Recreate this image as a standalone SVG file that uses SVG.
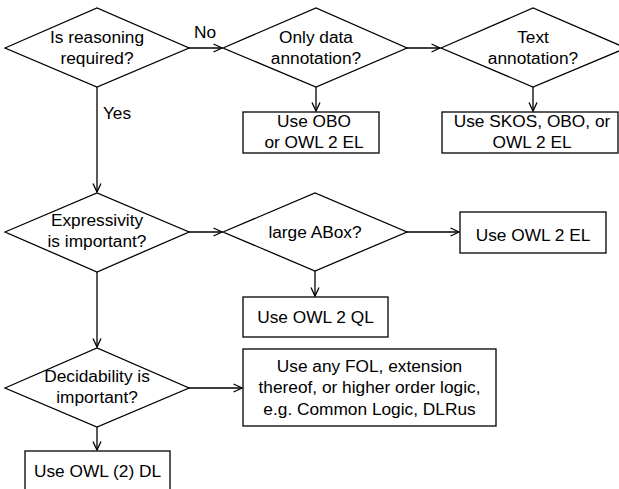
<svg xmlns="http://www.w3.org/2000/svg" width="619" height="489" viewBox="0 0 619 489">
<style>
.s{fill:#fff;stroke:#000;stroke-width:1.3}
.t{font-family:"Liberation Sans",Arial,sans-serif;font-size:17.3px;fill:#000;text-anchor:middle}
.c{fill:none;stroke:#000;stroke-width:1.3}
</style>
<defs>
<marker id="a" viewBox="0 0 10 10" refX="9.5" refY="5" markerWidth="10" markerHeight="10" markerUnits="userSpaceOnUse" orient="auto">
<polyline points="1,1 9.5,5 1,9" fill="none" stroke="#000" stroke-width="1.3"/>
</marker>
</defs>
<rect width="619" height="489" fill="#fff"/>
<g id="connectors">
<line class="c" x1="189" y1="48" x2="222" y2="48" marker-end="url(#a)"/>
<line class="c" x1="407" y1="48" x2="440" y2="48" marker-end="url(#a)"/>
<line class="c" x1="316" y1="87" x2="316" y2="111" marker-end="url(#a)"/>
<line class="c" x1="533" y1="87" x2="533" y2="111" marker-end="url(#a)"/>
<line class="c" x1="97" y1="87" x2="97" y2="192" marker-end="url(#a)"/>
<line class="c" x1="189" y1="232" x2="222" y2="232" marker-end="url(#a)"/>
<line class="c" x1="407" y1="232" x2="459" y2="232" marker-end="url(#a)"/>
<line class="c" x1="315" y1="271" x2="315" y2="296" marker-end="url(#a)"/>
<line class="c" x1="97" y1="272" x2="97" y2="347" marker-end="url(#a)"/>
<line class="c" x1="189" y1="388" x2="242" y2="388" marker-end="url(#a)"/>
<line class="c" x1="97" y1="427" x2="97" y2="450" marker-end="url(#a)"/>
<text class="t" x="205" y="38">No</text>
<text class="t" x="117" y="119">Yes</text>
</g>
<g id="q1">
<polygon class="s" points="5,48 97,8 189,48 97,87"/>
<text class="t" x="97" y="43">Is reasoning</text>
<text class="t" x="97" y="64">required?</text>
</g>
<g id="q2">
<polygon class="s" points="223,48 316,8 407,48 316,87"/>
<text class="t" x="316" y="43">Only data</text>
<text class="t" x="316" y="64">annotation?</text>
</g>
<g id="q3">
<polygon class="s" points="441,48 533,8 626,48 533,87"/>
<text class="t" x="533" y="43">Text</text>
<text class="t" x="533" y="64">annotation?</text>
</g>
<g id="r1">
<rect class="s" x="243" y="112" width="136" height="41"/>
<text class="t" x="314" y="127">Use OBO</text>
<text class="t" x="314" y="148">or OWL 2 EL</text>
</g>
<g id="r2">
<rect class="s" x="442" y="112" width="176" height="41"/>
<text class="t" x="532" y="127">Use SKOS, OBO, or</text>
<text class="t" x="532" y="148">OWL 2 EL</text>
</g>
<g id="q4">
<polygon class="s" points="5,232 97,193 189,232 97,272"/>
<text class="t" x="97" y="226">Expressivity</text>
<text class="t" x="97" y="247">is important?</text>
</g>
<g id="q5">
<polygon class="s" points="223,232 315,193 407,232 315,271"/>
<text class="t" x="315" y="238">large ABox?</text>
</g>
<g id="r3">
<rect class="s" x="460" y="212" width="146" height="41"/>
<text class="t" x="533" y="241">Use OWL 2 EL</text>
</g>
<g id="r4">
<rect class="s" x="243" y="297" width="145" height="40"/>
<text class="t" x="315.5" y="323">Use OWL 2 QL</text>
</g>
<g id="q6">
<polygon class="s" points="5,388 97,348 189,388 97,427"/>
<text class="t" x="97" y="382">Decidability is</text>
<text class="t" x="97" y="403">important?</text>
</g>
<g id="r5">
<rect class="s" x="243" y="349" width="253" height="77"/>
<text class="t" x="369.5" y="372">Use any FOL, extension</text>
<text class="t" x="369.5" y="393">thereof, or higher order logic,</text>
<text class="t" x="369.5" y="415">e.g. Common Logic, DLRus</text>
</g>
<g id="r6">
<rect class="s" x="25" y="451" width="145" height="45"/>
<text class="t" x="97.5" y="477">Use OWL (2) DL</text>
</g>
</svg>
